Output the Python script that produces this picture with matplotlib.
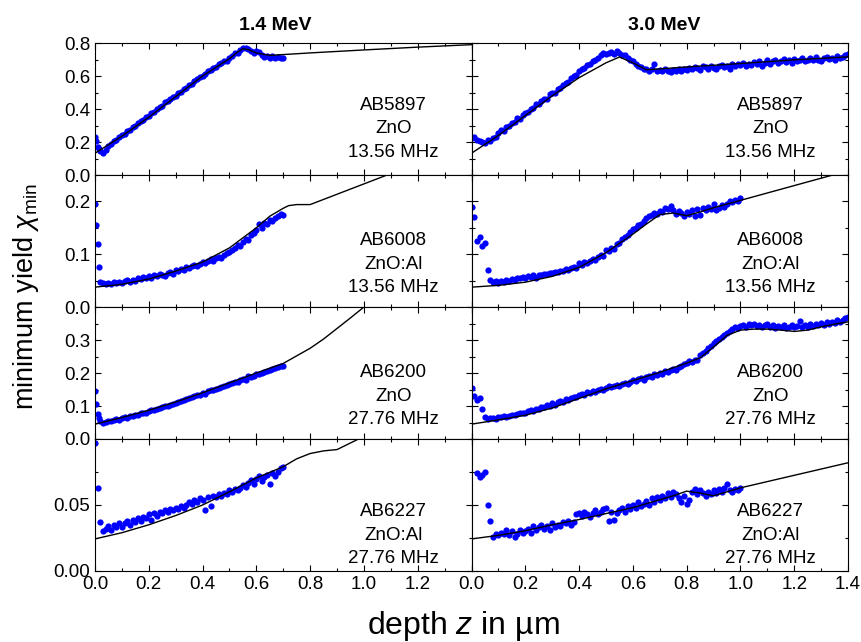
import numpy as np
import matplotlib
matplotlib.use("Agg")
import matplotlib.pyplot as plt
from matplotlib.ticker import MultipleLocator, FormatStrFormatter

plt.rcParams['font.family'] = ['Liberation Sans', 'DejaVu Sans']
plt.rcParams['mathtext.fontset'] = 'custom'
plt.rcParams['mathtext.rm'] = 'Liberation Sans'
plt.rcParams['mathtext.it'] = 'Liberation Sans:italic'

nan = np.nan

energies = ['1.4 MeV', '3.0 MeV']
samples = ['AB5897', 'AB6008', 'AB6200', 'AB6227']
materials = ['ZnO', 'ZnO:Al', 'ZnO', 'ZnO:Al']
freqs = ['13.56 MHz', '13.56 MHz', '27.76 MHz', '27.76 MHz']

# depth points of the measured spectra (um)
x_left = [0.0, 0.005, 0.01, 0.015, 0.02, 0.03, 0.04, 0.05, 0.06, 0.07, 0.08, 0.09,
          0.10, 0.11, 0.12, 0.13, 0.14, 0.15, 0.16, 0.17, 0.18, 0.19,
          0.20, 0.21, 0.22, 0.23, 0.24, 0.25, 0.26, 0.27, 0.28, 0.29,
          0.30, 0.31, 0.32, 0.33, 0.34, 0.35, 0.36, 0.37, 0.38, 0.39,
          0.40, 0.41, 0.42, 0.43, 0.44, 0.45, 0.46, 0.47, 0.48, 0.49,
          0.50, 0.51, 0.52, 0.53, 0.54, 0.55, 0.56, 0.57, 0.58, 0.59,
          0.60, 0.61, 0.62, 0.63, 0.64, 0.65, 0.66, 0.67, 0.68, 0.69, 0.70]

x_right = [0.00, 0.01, 0.02, 0.03, 0.04, 0.05, 0.06, 0.07, 0.08, 0.09,
           0.10, 0.11, 0.12, 0.13, 0.14, 0.15, 0.16, 0.17, 0.18, 0.19,
           0.20, 0.21, 0.22, 0.23, 0.24, 0.25, 0.26, 0.27, 0.28, 0.29,
           0.30, 0.31, 0.32, 0.33, 0.34, 0.35, 0.36, 0.37, 0.38, 0.39,
           0.40, 0.41, 0.42, 0.43, 0.44, 0.45, 0.46, 0.47, 0.48, 0.49,
           0.50, 0.51, 0.52, 0.53, 0.54, 0.55, 0.56, 0.57, 0.58, 0.59,
           0.60, 0.61, 0.62, 0.63, 0.64, 0.65, 0.66, 0.67, 0.68, 0.69,
           0.70, 0.71, 0.72, 0.73, 0.74, 0.75, 0.76, 0.77, 0.78, 0.79,
           0.80, 0.81, 0.82, 0.83, 0.84, 0.85, 0.86, 0.87, 0.88, 0.89,
           0.90, 0.91, 0.92, 0.93, 0.94, 0.95, 0.96, 0.97, 0.98, 0.99,
           1.00, 1.01, 1.02, 1.03, 1.04, 1.05, 1.06, 1.07, 1.08, 1.09,
           1.10, 1.11, 1.12, 1.13, 1.14, 1.15, 1.16, 1.17, 1.18, 1.19,
           1.20, 1.21, 1.22, 1.23, 1.24, 1.25, 1.26, 1.27, 1.28, 1.29,
           1.30, 1.31, 1.32, 1.33, 1.34, 1.35, 1.36, 1.37, 1.38, 1.39, 1.40]

# measured chi_min, 1.4 MeV
meas_5897_14 = [0.232, 0.205, 0.172, 0.155, 0.148,
                0.136, 0.150, 0.178, 0.190, 0.207, 0.212, 0.228,
                0.240, 0.251, 0.266, 0.272, 0.291, 0.296, 0.318, 0.330, 0.334, 0.352,
                0.358, 0.376, 0.381, 0.398, 0.412, 0.418, 0.440, 0.446, 0.458, 0.472,
                0.480, 0.497, 0.505, 0.521, 0.530, 0.548, 0.553, 0.571, 0.580, 0.596,
                0.603, 0.612, 0.628, 0.634, 0.650, 0.655, 0.672, 0.676, 0.690, 0.694,
                0.712, 0.720, 0.738, 0.742, 0.758, 0.770, 0.772, 0.766, 0.750, 0.740,
                0.752, 0.745, 0.728, 0.715, 0.722, 0.710, 0.720, 0.708, 0.716, 0.712, 0.708]
meas_6008_14 = [0.195, 0.155, 0.120, 0.075, 0.047,
                0.045, 0.043, 0.046, 0.044, 0.047, 0.045, 0.048,
                0.046, 0.049, 0.051, 0.048, 0.052, 0.050, 0.054, 0.053, 0.056, 0.055,
                0.058, 0.055, 0.060, 0.058, 0.062, 0.061, 0.059, 0.064, 0.066, 0.063,
                0.070, 0.068, 0.072, 0.071, 0.075, 0.073, 0.078, 0.080, 0.077, 0.082,
                0.085, 0.083, 0.088, 0.090, 0.087, 0.093, 0.095, 0.092, 0.099, 0.102,
                0.105, 0.108, 0.112, 0.118, 0.116, 0.123, 0.128, 0.126, 0.136, 0.140,
                0.145, 0.158, 0.150, 0.160, 0.157, 0.165, 0.162, 0.168, 0.172, 0.176, 0.174]
meas_6200_14 = [0.145, 0.105, 0.075, 0.065, 0.056,
                0.050, 0.052, 0.055, 0.054, 0.058, 0.060, 0.059,
                0.064, 0.066, 0.065, 0.070, 0.071, 0.074, 0.073, 0.078, 0.080, 0.079,
                0.085, 0.088, 0.087, 0.092, 0.094, 0.096, 0.099, 0.101, 0.104, 0.106,
                0.110, 0.112, 0.115, 0.117, 0.121, 0.124, 0.126, 0.130, 0.132, 0.134,
                0.138, 0.136, 0.145, 0.148, 0.147, 0.152, 0.156, 0.158, 0.162, 0.165,
                0.168, 0.170, 0.174, 0.172, 0.178, 0.182, 0.179, 0.190, 0.188, 0.192,
                0.196, 0.198, 0.201, 0.204, 0.206, 0.210, 0.212, 0.214, 0.217, 0.220, 0.222]
meas_6227_14 = [0.097, nan, 0.063, nan, 0.037,
                0.030, 0.032, 0.034, 0.031, 0.035, 0.033, 0.036,
                0.033, 0.036, 0.038, 0.035, 0.039, 0.037, 0.040, 0.038, 0.041, 0.040,
                0.043, 0.039, 0.044, 0.042, 0.045, 0.044, 0.046, 0.045, 0.047, 0.046,
                0.048, 0.047, 0.049, 0.048, 0.050, 0.052, 0.051, 0.054, 0.052, 0.055,
                0.054, 0.046, 0.056, 0.049, 0.057, 0.056, 0.058, 0.057, 0.059, 0.058,
                0.061, 0.060, 0.062, 0.061, 0.063, 0.065, 0.064, 0.067, 0.069, 0.066,
                0.070, 0.072, 0.068, 0.071, 0.073, 0.066, 0.074, 0.072, 0.075, 0.078, 0.079]

# measured chi_min, 3.0 MeV
meas_5897_30 = [0.225, 0.228, 0.215, 0.205, 0.198, 0.195, 0.212, 0.205, 0.225, 0.232,
                0.255, 0.270, 0.268, 0.290, 0.298, 0.318, 0.320, 0.345, 0.340, 0.362,
                0.378, 0.380, 0.400, 0.405, 0.428, 0.432, 0.448, 0.462, 0.460, 0.488,
                0.495, 0.500, 0.522, 0.528, 0.548, 0.560, 0.562, 0.590, 0.598, 0.608,
                0.628, 0.640, 0.650, 0.668, 0.672, 0.690, 0.700, 0.708, 0.725, 0.738,
                0.732, 0.742, 0.748, 0.735, 0.752, 0.740, 0.725, 0.730, 0.712, 0.700,
                0.692, 0.672, 0.660, 0.652, 0.642, 0.640, 0.632, 0.645, 0.675, 0.630,
                0.638, 0.628, 0.642, 0.630, 0.625, 0.638, 0.632, 0.640, 0.628, 0.645,
                0.635, 0.650, 0.642, 0.655, 0.648, 0.638, 0.660, 0.652, 0.645, 0.662,
                0.650, 0.640, 0.658, 0.668, 0.655, 0.662, 0.645, 0.670, 0.660, 0.672,
                0.665, 0.678, 0.658, 0.675, 0.668, 0.685, 0.672, 0.690, 0.662, 0.680,
                0.695, 0.675, 0.688, 0.698, 0.680, 0.692, 0.702, 0.685, 0.695, 0.678,
                0.705, 0.690, 0.698, 0.712, 0.688, 0.700, 0.708, 0.695, 0.715, 0.700,
                0.692, 0.710, 0.718, 0.702, 0.712, 0.698, 0.720, 0.708, 0.715, 0.725, 0.735]
meas_6008_30 = [0.190, 0.170, 0.125, 0.133, 0.115, 0.122, 0.070, 0.051, 0.047, 0.049,
                0.046, 0.050, 0.048, 0.051, 0.050, 0.053, 0.052, 0.055, 0.054, 0.057,
                0.055, 0.058, 0.056, 0.060, 0.055, 0.061, 0.060, 0.063, 0.062, 0.065,
                0.064, 0.067, 0.066, 0.069, 0.068, 0.072, 0.070, 0.074, 0.076, 0.073,
                0.083, 0.080, 0.086, 0.084, 0.088, 0.091, 0.089, 0.095, 0.098, 0.096,
                0.108, 0.106, 0.112, 0.110, 0.120, 0.122, 0.128, 0.132, 0.136, 0.142,
                0.148, 0.150, 0.155, 0.158, 0.163, 0.168, 0.172, 0.175, 0.178, 0.176,
                0.182, 0.180, 0.188, 0.186, 0.192, 0.184, 0.176, 0.182, 0.178, 0.172,
                0.180, 0.177, 0.184, 0.172, 0.186, 0.175, 0.188, 0.184, 0.190, 0.186,
                0.196, 0.184, 0.188, 0.194, 0.190, 0.196, 0.200, 0.198, 0.202, 0.200, 0.207]
meas_6200_30 = [0.155, 0.130, 0.118, 0.125, 0.092, 0.066, 0.060, 0.063, 0.065, 0.062,
                0.067, 0.066, 0.070, 0.068, 0.071, 0.073, 0.072, 0.076, 0.078, 0.080,
                0.079, 0.084, 0.087, 0.085, 0.092, 0.090, 0.096, 0.098, 0.103, 0.100,
                0.108, 0.104, 0.112, 0.115, 0.113, 0.120, 0.118, 0.124, 0.128, 0.126,
                0.133, 0.136, 0.134, 0.141, 0.140, 0.146, 0.143, 0.150, 0.152, 0.148,
                0.156, 0.160, 0.158, 0.162, 0.165, 0.161, 0.168, 0.170, 0.166, 0.174,
                0.178, 0.175, 0.181, 0.184, 0.180, 0.188, 0.192, 0.189, 0.196, 0.194,
                0.200, 0.198, 0.205, 0.202, 0.210, 0.212, 0.208, 0.218, 0.222, 0.226,
                0.230, 0.236, 0.234, 0.240, 0.238, 0.255, 0.262, 0.268, 0.275, 0.282,
                0.292, 0.298, 0.302, 0.308, 0.315, 0.320, 0.326, 0.332, 0.338, 0.335,
                0.342, 0.345, 0.340, 0.348, 0.344, 0.350, 0.342, 0.346, 0.338, 0.344,
                0.348, 0.340, 0.345, 0.336, 0.342, 0.338, 0.344, 0.335, 0.340, 0.346,
                0.338, 0.342, 0.357, 0.340, 0.345, 0.338, 0.348, 0.342, 0.350, 0.344,
                0.352, 0.346, 0.355, 0.348, 0.356, 0.352, 0.360, 0.355, 0.362, 0.366, 0.370]
meas_6227_30 = [0.074, 0.071, 0.073, 0.075, 0.050, 0.038, 0.026, 0.028,
                0.027, 0.029, 0.028, 0.031, 0.027, 0.030, 0.026, 0.028, 0.031, 0.029,
                0.030, 0.032, 0.029, 0.034, 0.031, 0.033, 0.035, 0.032, 0.034, 0.031,
                0.036, 0.033, 0.035, 0.034, 0.037, 0.036, 0.038, 0.035, 0.037, 0.043,
                0.044, 0.042, 0.045, 0.043, 0.041, 0.044, 0.046, 0.043, 0.045, 0.047,
                0.048, 0.038, 0.045, 0.039, 0.044, 0.046, 0.048, 0.045, 0.049, 0.047,
                0.050, 0.048, 0.052, 0.049, 0.051, 0.053, 0.050, 0.055, 0.052, 0.056,
                0.054, 0.057, 0.055, 0.059, 0.056, 0.060, 0.058, 0.055, 0.052, 0.057,
                0.051, 0.054, 0.060, 0.062, 0.058, 0.061, 0.059, 0.057, 0.060, 0.058,
                0.061, 0.059, 0.062, 0.060, 0.063, 0.066, 0.061, 0.060, 0.062, 0.061, 0.063]

# simulated curves (depth, chi_min)
sim_5897_14_x = [0, 0.1, 0.2, 0.3, 0.4, 0.5, 0.53, 0.55, 0.57, 0.6, 0.65, 0.7, 0.8, 1.0, 1.2, 1.4]
sim_5897_14_y = [0.132, 0.235, 0.35, 0.475, 0.60, 0.705, 0.745, 0.765, 0.76, 0.74, 0.725, 0.73,
                 0.74, 0.758, 0.775, 0.79]
sim_6008_14_x = [0, 0.1, 0.2, 0.3, 0.4, 0.5, 0.6, 0.65, 0.7, 0.72, 0.75, 0.8, 1.086, 1.4]
sim_6008_14_y = [0.0376, 0.043, 0.053, 0.068, 0.085, 0.112, 0.15, 0.172, 0.187, 0.192, 0.194,
                 0.194, 0.25, 0.313]
sim_6200_14_x = [0, 0.1, 0.2, 0.3, 0.4, 0.5, 0.6, 0.7, 0.8, 0.85, 0.9, 0.95, 1.0, 1.05]
sim_6200_14_y = [0.045, 0.065, 0.087, 0.112, 0.140, 0.170, 0.200, 0.229, 0.275, 0.303, 0.335,
                 0.367, 0.40, 0.435]
sim_6227_14_x = [0, 0.1, 0.2, 0.3, 0.4, 0.5, 0.6, 0.7, 0.75, 0.8, 0.85, 0.9, 0.95, 1.0]
sim_6227_14_y = [0.0243, 0.029, 0.035, 0.042, 0.050, 0.060, 0.0705, 0.079, 0.085, 0.089, 0.091,
                 0.092, 0.097, 0.102]

sim_5897_30_x = [0, 0.1, 0.2, 0.3, 0.4, 0.5, 0.55, 0.6, 0.65, 0.7, 0.8, 0.9, 1.0, 1.1, 1.2, 1.3, 1.4]
sim_5897_30_y = [0.132, 0.24, 0.36, 0.48, 0.59, 0.68, 0.715, 0.68, 0.638, 0.643, 0.655, 0.665,
                 0.676, 0.687, 0.698, 0.707, 0.716]
sim_6008_30_x = [0, 0.1, 0.2, 0.3, 0.4, 0.5, 0.6, 0.65, 0.7, 0.75, 0.8, 0.85, 0.9, 1.0, 1.2, 1.4]
sim_6008_30_y = [0.0376, 0.041, 0.047, 0.058, 0.075, 0.103, 0.138, 0.157, 0.175, 0.178, 0.173,
                 0.18, 0.188, 0.202, 0.23, 0.258]
sim_6200_30_x = [0, 0.1, 0.2, 0.3, 0.4, 0.5, 0.6, 0.7, 0.8, 0.85, 0.9, 0.95, 1.0, 1.05, 1.1,
                 1.15, 1.2, 1.25, 1.3, 1.35, 1.4]
sim_6200_30_y = [0.045, 0.058, 0.072, 0.094, 0.123, 0.152, 0.177, 0.202, 0.23, 0.246, 0.279,
                 0.314, 0.33, 0.333, 0.333, 0.33, 0.326, 0.33, 0.34, 0.348, 0.355]
sim_6227_30_x = [0, 0.1, 0.2, 0.3, 0.4, 0.5, 0.6, 0.7, 0.75, 0.8, 0.85, 0.9, 0.95, 1.0, 1.2, 1.4]
sim_6227_30_y = [0.0243, 0.027, 0.0305, 0.035, 0.039, 0.0435, 0.048, 0.054, 0.057, 0.0605, 0.059,
                 0.057, 0.06, 0.063, 0.0725, 0.082]

meas = [[(x_left, meas_5897_14), (x_right, meas_5897_30)],
        [(x_left, meas_6008_14), (x_right[:101], meas_6008_30)],
        [(x_left, meas_6200_14), (x_right, meas_6200_30)],
        [(x_left, meas_6227_14), (x_right[2:101], meas_6227_30)]]
sims = [[(sim_5897_14_x, sim_5897_14_y), (sim_5897_30_x, sim_5897_30_y)],
        [(sim_6008_14_x, sim_6008_14_y), (sim_6008_30_x, sim_6008_30_y)],
        [(sim_6200_14_x, sim_6200_14_y), (sim_6200_30_x, sim_6200_30_y)],
        [(sim_6227_14_x, sim_6227_14_y), (sim_6227_30_x, sim_6227_30_y)]]

# axis setup per row
row_ylim = [0.8, 0.25, 0.4, 0.1]
row_yticks = [[0, 0.2, 0.4, 0.6, 0.8], [0, 0.1, 0.2], [0, 0.1, 0.2, 0.3], [0, 0.05]]
row_minor = [0.1, 0.05, 0.05, 0.025]
row_fmt = ['%.1f', '%.1f', '%.1f', '%.2f']
row_text_y = [0.494, 0.466, 0.468, 0.414]
xticks = [0, 0.2, 0.4, 0.6, 0.8, 1.0, 1.2, 1.4]

fig, axes = plt.subplots(4, 2, figsize=(8.61, 6.42), dpi=100)
fig.subplots_adjust(left=0.1103, right=0.985, top=0.933, bottom=0.1106, hspace=0, wspace=0)

for r in range(4):
    for c in range(2):
        ax = axes[r, c]
        mx, my = meas[r][c]
        sx, sy = sims[r][c]
        ax.plot(sx, sy, color='black', lw=1.0, zorder=3)
        ax.plot(mx, my, 'o', color='#0000ff', ms=4.5, mec='none', zorder=2)

        ax.set_xlim(0, 1.4)
        ax.set_ylim(0, row_ylim[r])
        ax.set_xticks(xticks)
        ax.xaxis.set_minor_locator(MultipleLocator(0.1))
        ax.set_yticks(row_yticks[r])
        ax.yaxis.set_minor_locator(MultipleLocator(row_minor[r]))
        ax.yaxis.set_major_formatter(FormatStrFormatter(row_fmt[r]))
        ax.tick_params(which='both', direction='in', top=True, right=True,
                       width=0.8, labelsize=13.5, colors='black')
        ax.tick_params(which='major', length=4)
        ax.tick_params(which='minor', length=2)
        for sp in ax.spines.values():
            sp.set_linewidth(0.8)

        if c == 1:
            ax.tick_params(labelleft=False)
        if r < 3:
            ax.tick_params(labelbottom=False)
        else:
            labels = ['%.1f' % t for t in xticks]
            if c == 0:
                labels[-1] = ''
            ax.set_xticklabels(labels)

        lines = [samples[r], materials[r], freqs[r]]
        for i, s in enumerate(lines):
            ax.text(0.793, row_text_y[r] - i * 0.178, s, transform=ax.transAxes,
                    ha='center', va='baseline', fontsize=13.5)

fig.text(0.3194, 0.953, energies[0], ha='center', va='baseline', fontsize=14, weight='bold')
fig.text(0.7718, 0.953, energies[1], ha='center', va='baseline', fontsize=14, weight='bold')
fig.text(0.030, 0.539, r'minimum yield $\chi_{\mathrm{min}}$', rotation=90,
         ha='center', va='center', fontsize=19.5)
fig.text(0.538, 0.012, r'depth $z$ in µm', ha='center', va='baseline', fontsize=23)

fig.savefig('out.png', dpi=100)
